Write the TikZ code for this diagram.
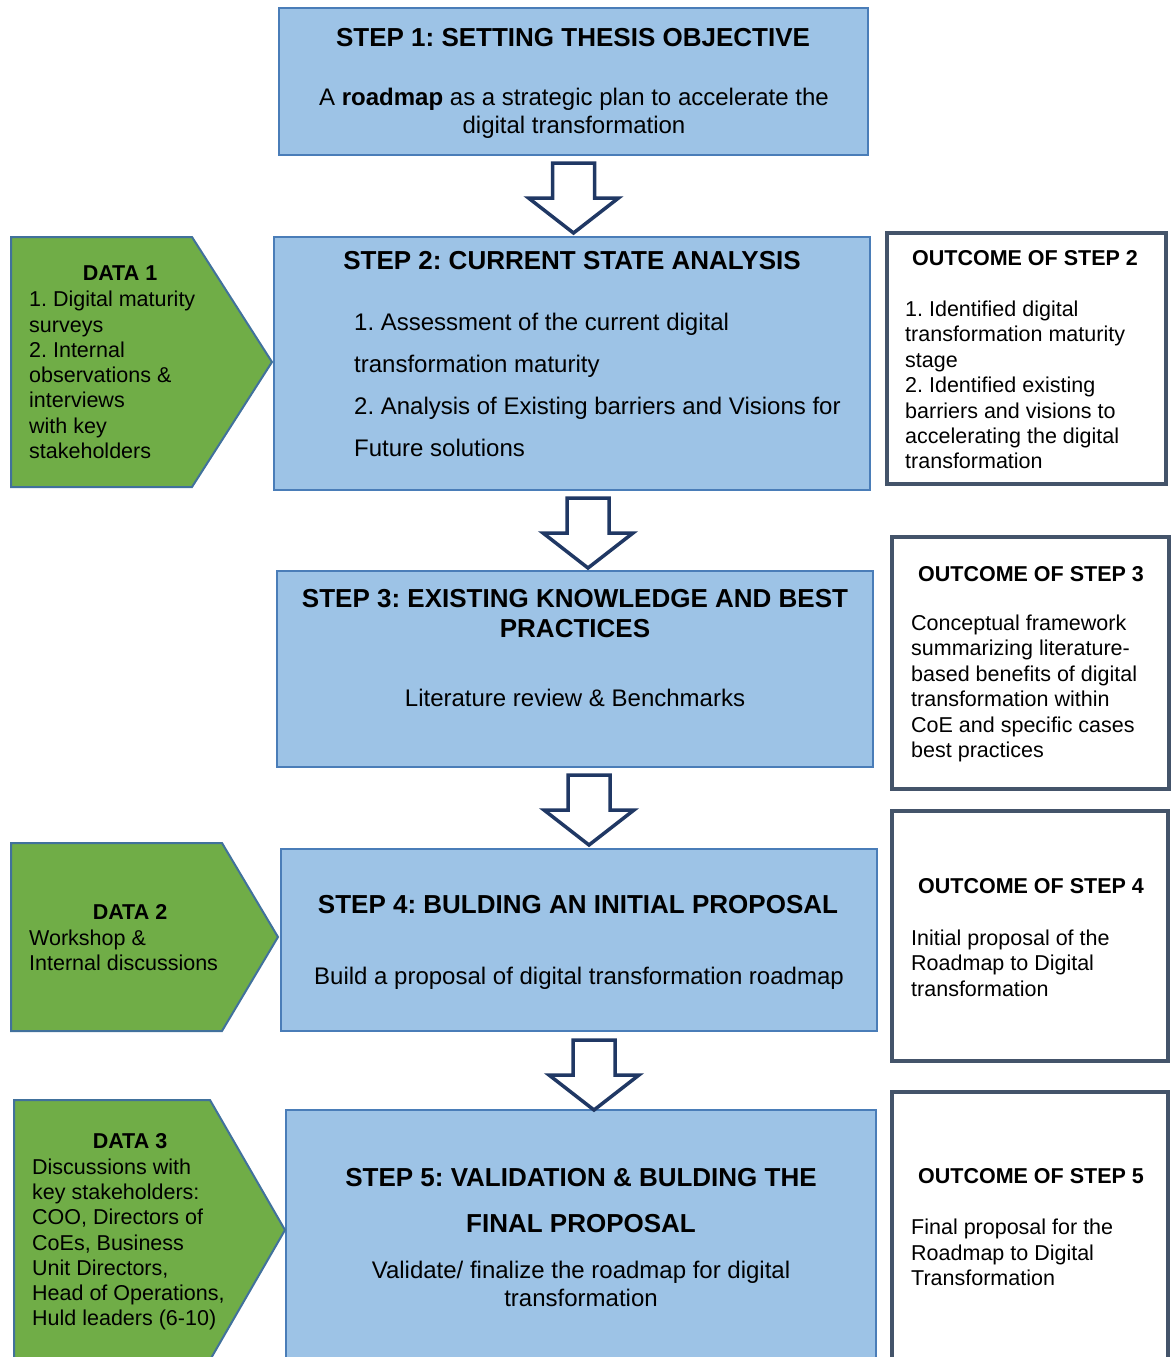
\documentclass[tikz,border=0pt]{standalone}
\usepackage{fontspec}
\setmainfont{Liberation Sans}
\usetikzlibrary{calc}
\frenchspacing

\definecolor{stepfill}{HTML}{9DC3E6}
\definecolor{stepline}{HTML}{4A7DB8}
\definecolor{datafill}{HTML}{70AD47}
\definecolor{dataline}{HTML}{41719C}
\definecolor{arrowline}{HTML}{203864}
\definecolor{outline}{HTML}{44546A}

\begin{document}
\begin{tikzpicture}[x=1pt,y=-1pt,
  stepbox/.style={draw=stepline, line width=2pt, fill=stepfill, inner sep=0pt, outer sep=0pt},
  outbox/.style={draw=outline, line width=3.5pt, fill=white, inner sep=0pt, outer sep=0pt},
  datashape/.style={draw=dataline, line width=2pt, fill=datafill, line join=miter},
  blockarrow/.style={draw=arrowline, line width=3.5pt, fill=white, line join=miter},
  steptitle/.style={font=\fontsize{26}{30}\selectfont\bfseries, align=center, inner sep=0pt},
  steptext/.style={font=\fontsize{24}{28}\selectfont, align=center, inner sep=0pt},
  datatitle/.style={font=\fontsize{21.5}{25.3}\selectfont\bfseries, inner sep=0pt},
  datatext/.style={font=\fontsize{21.5}{25.3}\selectfont, align=left, anchor=west, inner sep=0pt},
  outtitle/.style={font=\fontsize{21.5}{25.4}\selectfont\bfseries, inner sep=0pt},
  outtext/.style={font=\fontsize{21.5}{25.4}\selectfont, align=left, anchor=west, inner sep=0pt}
]
\useasboundingbox (0,0) rectangle (1171,1357);
\clip (0,0) rectangle (1171,1357);

% ---------- step boxes ----------
\node[stepbox, minimum width=589, minimum height=147] (s1) at (573.5,81.5) {};
\node[stepbox, minimum width=596, minimum height=253] (s2) at (572,363.5) {};
\node[stepbox, minimum width=596, minimum height=196] (s3) at (575,669) {};
\node[stepbox, minimum width=596, minimum height=182] (s4) at (579,940) {};
\node[stepbox, minimum width=590, minimum height=290] (s5) at (581,1255) {};

\node[steptitle] (s1t) at (573,38) {STEP 1: SETTING THESIS OBJECTIVE};
\node[steptext] (s1b) at (574,113) {A \textbf{roadmap} as a strategic plan to accelerate the\\digital transformation};

\node[steptitle] (s2t) at (572,261) {STEP 2: CURRENT STATE ANALYSIS};
\node[steptext, font=\fontsize{24}{42}\selectfont, align=left, anchor=west] (s2b) at (354,384.5)
  {1. Assessment of the current digital\\transformation maturity\\2. Analysis of Existing barriers and Visions for\\Future solutions};

\node[steptitle] (s3t) at (575,613.5) {STEP 3: EXISTING KNOWLEDGE AND BEST\\PRACTICES};
\node[steptext] (s3b) at (575,698) {Literature review \& Benchmarks};

\node[steptitle] (s4t) at (578,905) {STEP 4: BULDING AN INITIAL PROPOSAL};
\node[steptext] (s4b) at (579,978) {Build a proposal of digital transformation roadmap};

\node[steptitle, font=\fontsize{26}{46}\selectfont\bfseries] (s5t) at (581,1201) {STEP 5: VALIDATION \& BULDING THE\\FINAL PROPOSAL};
\node[steptext] (s5b) at (581,1284) {Validate/ finalize the roadmap for digital\\transformation};

% ---------- block arrows between the steps ----------
\coordinate (a1) at ($(s1.south)+(0,8)$);
\coordinate (a2) at ($(s2.south)+(16,8)$);
\coordinate (a3) at ($(s3.south)+(14,8)$);
\coordinate (a4) at ($(s4.south)+(15,9)$);
\foreach \a in {a1,a2,a3,a4}{
  \draw[blockarrow] (\a) ++(-21,0) -- ++(42,0) -- ++(0,35) -- ++(24,0)
    -- ++(-45,35) -- ++(-45,-35) -- ++(24,0) -- cycle;
}

% ---------- data inputs ----------
\draw[datashape] (11,237) -- (192,237) -- (272,362) -- (192,487) -- (11,487) -- cycle;
\node[datatitle] (d1t) at (120,273) {DATA 1};
\node[datatext] (d1b) at (29,375) {1. Digital maturity\\surveys\\2. Internal\\observations \&\\interviews\\with key\\stakeholders};

\draw[datashape] (11,843) -- (222,843) -- (278,937) -- (222,1031) -- (11,1031) -- cycle;
\node[datatitle] (d2t) at (130,912) {DATA 2};
\node[datatext] (d2b) at (29,950.5) {Workshop \&\\Internal discussions};

\draw[datashape] (14,1100) -- (210,1100) -- (285,1230) -- (210,1360) -- (14,1360) -- cycle;
\node[datatitle] (d3t) at (130,1141) {DATA 3};
\node[datatext] (d3b) at (32,1244.5) {Discussions with\\key stakeholders:\\COO, Directors of\\CoEs, Business\\Unit Directors,\\Head of Operations,\\Huld leaders (6-10)};

% ---------- outcomes ----------
\node[outbox, minimum width=279, minimum height=251] (o2) at (1026.5,358.5) {};
\node[outtitle] (o2t) at (1025,258) {OUTCOME OF STEP 2};
\node[outtext] (o2b) at (905,385) {1. Identified digital\\transformation maturity\\stage\\2. Identified existing\\barriers and visions to\\accelerating the digital\\transformation};

\node[outbox, minimum width=277, minimum height=252] (o3) at (1030.5,663) {};
\node[outtitle] (o3t) at (1031,574) {OUTCOME OF STEP 3};
\node[outtext] (o3b) at (911,688.5) {Conceptual framework\\summarizing literature-\\based benefits of digital\\transformation within\\CoE and specific cases\\best practices};

\node[outbox, minimum width=276, minimum height=250] (o4) at (1030,936) {};
\node[outtitle] (o4t) at (1031,886) {OUTCOME OF STEP 4};
\node[outtext] (o4b) at (911,963) {Initial proposal of the\\Roadmap to Digital\\transformation};

\node[outbox, minimum width=276, minimum height=308] (o5) at (1030,1246) {};
\node[outtitle] (o5t) at (1031,1176) {OUTCOME OF STEP 5};
\node[outtext] (o5b) at (911,1252.5) {Final proposal for the\\Roadmap to Digital\\Transformation};
\end{tikzpicture}
\end{document}
